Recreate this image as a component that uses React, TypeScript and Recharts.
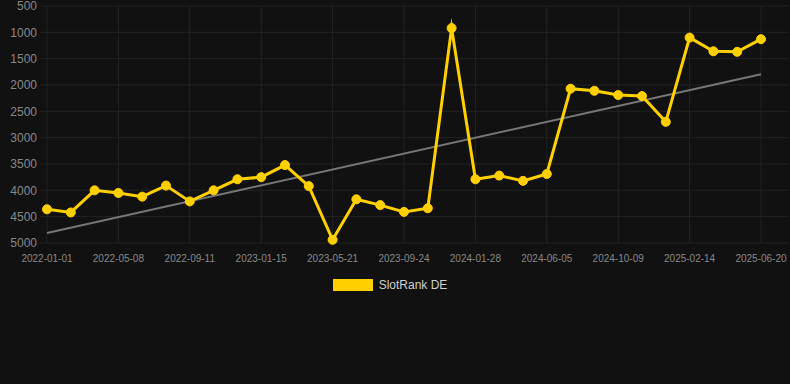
import { LineChart, Line, XAxis, YAxis, CartesianGrid, Legend } from "recharts";

const dates = [
  "2022-01-01", "2022-02-12", "2022-03-26", "2022-05-08", "2022-06-19", "2022-07-31",
  "2022-09-11", "2022-10-23", "2022-12-04", "2023-01-15", "2023-02-26", "2023-04-09",
  "2023-05-21", "2023-07-02", "2023-08-13", "2023-09-24", "2023-11-05", "2023-12-17",
  "2024-01-28", "2024-03-10", "2024-04-21", "2024-06-05", "2024-07-17", "2024-08-28",
  "2024-10-09", "2024-11-20", "2025-01-01", "2025-02-14", "2025-03-28", "2025-05-09",
  "2025-06-20",
];

const rank = [
  4360, 4420, 4000, 4050, 4120, 3910, 4210, 4000, 3790, 3750, 3520, 3920, 4940, 4170,
  4280, 4410, 4340, 920, 3790, 3720, 3820, 3690, 2070, 2110, 2190, 2210, 2700, 1100,
  1360, 1370, 1130,
];

// trend line end points (first and last date)
const trendStart = 4810;
const trendEnd = 1795;

const yTicks = [500, 1000, 1500, 2000, 2500, 3000, 3500, 4000, 4500, 5000];

const data = dates.map((d, i) => ({
  date: d,
  rank: rank[i],
  trend: i === 0 ? trendStart : i === dates.length - 1 ? trendEnd : null,
}));

const FONT = "'Liberation Sans', Arial, Helvetica, sans-serif";
const YELLOW = "#FFD000";

function LegendBox() {
  return (
    <div
      style={{
        display: "flex",
        justifyContent: "center",
        alignItems: "center",
        height: 20,
        paddingRight: 8,
        fontFamily: FONT,
        fontSize: 12,
        color: "#d0d0d0",
      }}
    >
      <span style={{ width: 40, height: 12, background: YELLOW, display: "inline-block" }} />
      <span style={{ marginLeft: 6 }}>SlotRank DE</span>
    </div>
  );
}

export default function App() {
  return (
    <div style={{ width: 790, height: 384, background: "#111111" }}>
      <style>{`body{margin:0;background:#111111}`}</style>
      <LineChart
        width={790}
        height={384}
        data={data}
        margin={{ top: 6, right: 2, left: 0, bottom: 89 }}
      >
        <CartesianGrid stroke="#232323" strokeWidth={1} syncWithTicks />
        <XAxis
          dataKey="date"
          interval={2}
          height={32}
          padding={{ left: 7, right: 27 }}
          axisLine={false}
          tickLine={false}
          tickSize={0}
          tickMargin={12}
          tick={{ fontSize: 10, fill: "#888888", fontFamily: FONT }}
        />
        <YAxis
          reversed
          domain={[500, 5000]}
          ticks={yTicks}
          interval={0}
          width={40}
          axisLine={false}
          tickLine={false}
          tickSize={0}
          tickMargin={3}
          tick={{ fontSize: 12, fill: "#888888", fontFamily: FONT }}
        />
        <Legend verticalAlign="bottom" content={() => <LegendBox />} />
        <Line
          dataKey="trend"
          stroke="#777777"
          strokeWidth={2}
          dot={false}
          connectNulls
          isAnimationActive={false}
        />
        <Line
          dataKey="rank"
          stroke={YELLOW}
          strokeWidth={3}
          strokeMiterlimit={10}
          dot={{ r: 4.5, fill: YELLOW, stroke: YELLOW, strokeWidth: 1 }}
          activeDot={false}
          isAnimationActive={false}
        />
      </LineChart>
    </div>
  );
}
